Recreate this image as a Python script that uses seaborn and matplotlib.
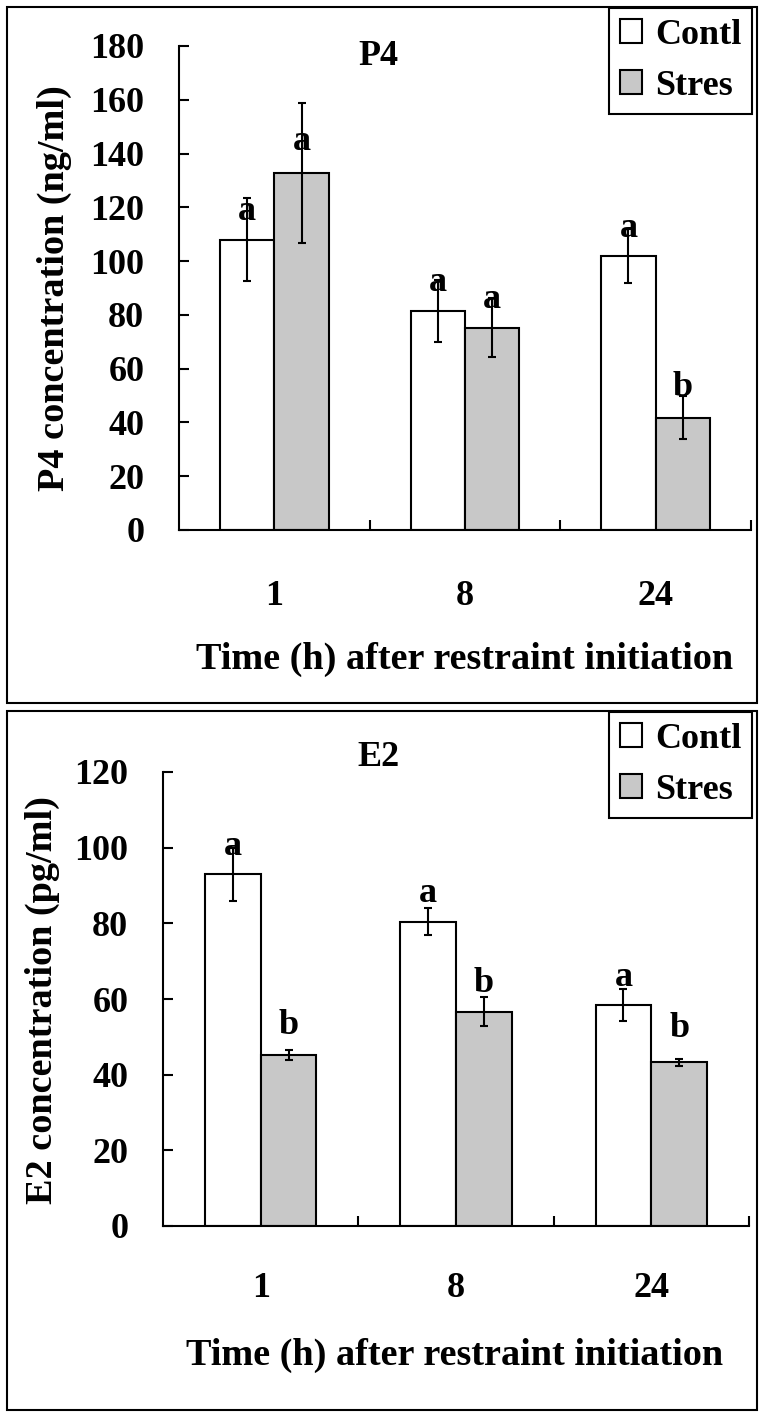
import matplotlib
matplotlib.use('Agg')
import matplotlib.pyplot as plt
from matplotlib.patches import Rectangle
import pandas as pd
import seaborn as sns

times = ['1', '8', '24']
groups = ['Contl', 'Stres']

p4_contl = [108, 81.5, 101.8]
p4_stres = [132.8, 75.3, 41.7]
p4_contl_err = [15.5, 11.5, 10]
p4_stres_err = [26, 11, 8]
p4_contl_letters = ['a', 'a', 'a']
p4_stres_letters = ['a', 'a', 'b']
p4_contl_letter_y = [118.5, 91.9, 112.3]
p4_stres_letter_y = [144.4, 85.6, 52.9]

e2_contl = [93.0, 80.4, 58.5]
e2_stres = [45.3, 56.6, 43.3]
e2_contl_err = [7, 3.6, 4.2]
e2_stres_err = [1.3, 3.8, 0.9]
e2_contl_letters = ['a', 'a', 'a']
e2_stres_letters = ['b', 'b', 'b']
e2_contl_letter_y = [100.3, 87.9, 65.8]
e2_stres_letter_y = [53.0, 64.2, 52.1]

sns.set_theme(style='white')
plt.rcParams['font.family'] = ['Liberation Serif', 'DejaVu Serif']
plt.rcParams['font.weight'] = 'bold'
plt.rcParams['axes.labelweight'] = 'bold'
for key in ['text.color', 'axes.labelcolor', 'xtick.color', 'ytick.color']:
    plt.rcParams[key] = 'black'

FS = 26
LFS = 27.5
W, H = 764, 1414
fig = plt.figure(figsize=(W / 100, H / 100), dpi=100)

palette = {'Contl': 'white', 'Stres': '#c8c8c8'}


def panel(rect, contl, stres, c_err, s_err, c_let, s_let, c_ly, s_ly,
          ymax, ylabel, title, title_xy, xlab_xy, ylab_xy, leg_anchor, xpad):
    ax = fig.add_axes(rect)
    df = pd.DataFrame({
        'time': times * 2,
        'group': ['Contl'] * 3 + ['Stres'] * 3,
        'value': contl + stres,
    })
    sns.barplot(data=df, x='time', y='value', hue='group', order=times,
                hue_order=groups, palette=palette, edgecolor='black',
                linewidth=1.5, width=0.57, errorbar=None, saturation=1,
                ax=ax)
    errs = [c_err, s_err]
    lets = [c_let, s_let]
    lys = [c_ly, s_ly]
    vals = [contl, stres]
    bar_sets = list(ax.containers)
    for k, cont in enumerate(bar_sets):
        xs = [b.get_x() + b.get_width() / 2 for b in cont.patches]
        ax.errorbar(xs, vals[k], yerr=errs[k], fmt='none', ecolor='black',
                    elinewidth=1.5, capsize=3, capthick=1.5, zorder=5)
        for x, t, y in zip(xs, lets[k], lys[k]):
            ax.text(x, y, t, ha='center', va='center', fontsize=FS,
                    fontweight='bold', color='black', zorder=6)
    ax.set_xlim(-0.5, 2.5)
    ax.set_ylim(0, ymax)
    ax.set_yticks(range(0, ymax + 1, 20))
    sns.despine(ax=ax)
    for s in ['left', 'bottom']:
        ax.spines[s].set_linewidth(1.5)
        ax.spines[s].set_color('black')
    ax.tick_params(axis='y', direction='in', length=7, width=1.5,
                   pad=25, labelsize=FS, colors='black', left=True)
    ax.tick_params(axis='x', which='major', length=0, pad=xpad,
                   labelsize=FS, colors='black')
    ax.set_xticks([0.5, 1.5, 2.5], minor=True)
    ax.tick_params(axis='x', which='minor', direction='in', length=7,
                   width=1.5, bottom=True, color='black')
    ax.set_xlabel('Time (h) after restraint initiation', fontsize=LFS,
                  fontweight='bold', color='black')
    ax.xaxis.set_label_coords(*xlab_xy)
    ax.set_ylabel(ylabel, fontsize=LFS, fontweight='bold', color='black',
                  va='center')
    ax.yaxis.set_label_coords(*ylab_xy)
    ax.text(title_xy[0], title_xy[1], title, transform=ax.transAxes,
            ha='center', va='center', fontsize=FS, fontweight='bold',
            color='black')
    leg = ax.legend(loc='upper right', bbox_to_anchor=leg_anchor,
                    bbox_transform=fig.transFigure, borderaxespad=0,
                    fontsize=FS, frameon=True, fancybox=False,
                    edgecolor='black', framealpha=1, handlelength=0.62,
                    handleheight=0.62, handletextpad=0.35, labelspacing=0.5,
                    borderpad=0.3)
    leg.get_frame().set_linewidth(1.5)
    for h in leg.legend_handles:
        h.set_edgecolor('black')
        h.set_linewidth(1.5)
    return ax


panel([179 / W, 1 - 530 / H, 572 / W, 484 / H],
      p4_contl, p4_stres, p4_contl_err, p4_stres_err,
      p4_contl_letters, p4_stres_letters, p4_contl_letter_y, p4_stres_letter_y,
      180, 'P4 concentration (ng/ml)', 'P4', (0.348, 0.979),
      (0.5, -0.231), (-0.2185, 0.5), (752 / W, 1 - 8 / H), 36)

panel([163 / W, 1 - 1226 / H, 586 / W, 454 / H],
      e2_contl, e2_stres, e2_contl_err, e2_stres_err,
      e2_contl_letters, e2_stres_letters, e2_contl_letter_y, e2_stres_letter_y,
      120, 'E2 concentration (pg/ml)', 'E2', (0.3686, 1.033),
      (0.498, -0.246), (-0.205, 0.498), (752 / W, 1 - 712 / H), 33)

for y0, y1 in [(7, 703), (711, 1410)]:
    fig.patches.append(Rectangle((7 / W, 1 - y1 / H), 750 / W, (y1 - y0) / H,
                                 transform=fig.transFigure, fill=False,
                                 edgecolor='black', linewidth=1.5, zorder=0))

fig.savefig('out.png', dpi=100)
